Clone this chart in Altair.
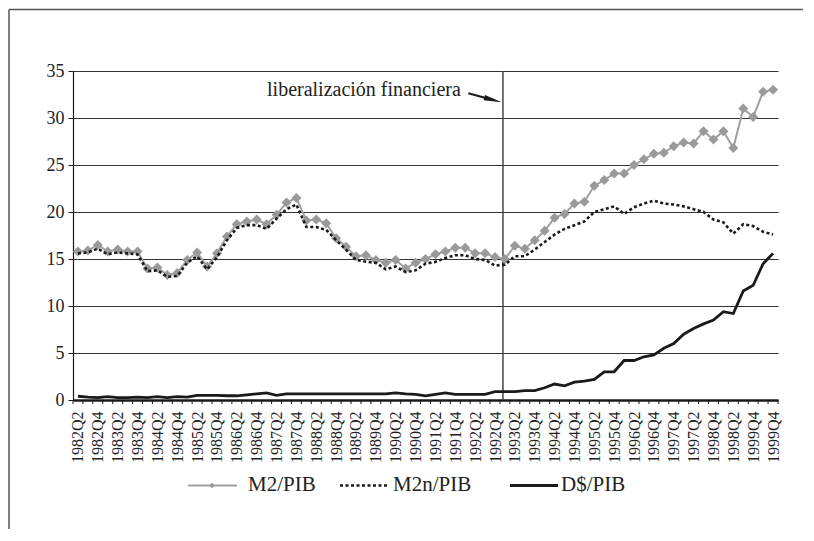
import altair as alt
import pandas as pd

# ---------------- data ----------------
tick_labels = ["1982Q2", "1982Q4", "1983Q2", "1983Q4", "1984Q2", "1984Q4",
               "1985Q2", "1985Q4", "1986Q2", "1986Q4", "1987Q2", "1987Q4",
               "1988Q2", "1988Q4", "1989Q2", "1989Q4", "1990Q2", "1990Q4",
               "1991Q2", "1991Q4", "1992Q2", "1992Q4", "1993Q2", "1993Q4",
               "1994Q2", "1994Q4", "1995Q2", "1995Q4", "1996Q2", "1996Q4",
               "1997Q4", "1997Q2", "1998Q4", "1998Q2", "1999Q4", "1999Q4"]

m2_pib = [15.8, 15.9, 16.5, 15.8, 16.0, 15.8, 15.8, 14.0, 14.1, 13.3,
          13.5, 14.9, 15.7, 14.2, 15.6, 17.4, 18.7, 19.0, 19.2, 18.7,
          19.7, 21.0, 21.5, 19.1, 19.2, 18.8, 17.2, 16.3, 15.3, 15.4,
          14.9, 14.6, 14.9, 14.0, 14.6, 15.0, 15.5, 15.8, 16.2, 16.2,
          15.6, 15.6, 15.2, 15.0, 16.4, 16.1, 17.0, 18.0, 19.4, 19.8,
          20.9, 21.1, 22.8, 23.4, 24.1, 24.1, 25.0, 25.6, 26.2, 26.3,
          27.0, 27.4, 27.3, 28.6, 27.7, 28.6, 26.8, 31.0, 30.1, 32.8,
          33.0]

m2n_pib = [15.6, 15.7, 16.1, 15.5, 15.7, 15.6, 15.5, 13.7, 13.8, 13.1,
           13.2, 14.6, 15.3, 13.9, 15.2, 17.0, 18.3, 18.6, 18.6, 18.2,
           19.3, 20.3, 20.8, 18.4, 18.4, 18.1, 17.0, 16.0, 14.9, 14.7,
           14.6, 13.9, 14.2, 13.6, 13.8, 14.5, 14.7, 15.1, 15.4, 15.4,
           15.0, 14.9, 14.3, 14.4, 15.3, 15.3, 16.0, 16.8, 17.6, 18.2,
           18.6, 19.0, 20.0, 20.3, 20.6, 19.8, 20.5, 20.9, 21.2, 20.9,
           20.8, 20.6, 20.3, 20.0, 19.2, 18.9, 17.7, 18.7, 18.5, 17.9,
           17.6]

dolar_pib = [0.4, 0.3, 0.25, 0.35, 0.25, 0.25, 0.3, 0.25, 0.35, 0.25,
             0.35, 0.3, 0.5, 0.5, 0.5, 0.45, 0.45, 0.55, 0.65, 0.75,
             0.5, 0.65, 0.65, 0.65, 0.65, 0.65, 0.65, 0.65, 0.65, 0.65,
             0.65, 0.65, 0.75, 0.65, 0.6, 0.45, 0.6, 0.75, 0.6, 0.6,
             0.6, 0.6, 0.9, 0.9, 0.9, 1.0, 1.0, 1.3, 1.7, 1.5,
             1.9, 2.0, 2.2, 3.0, 3.0, 4.2, 4.2, 4.6, 4.8, 5.5,
             6.0, 7.0, 7.6, 8.1, 8.5, 9.4, 9.2, 11.6, 12.2, 14.5,
             15.6]

series_names = ["M2/PIB", "M2n/PIB", "D$/PIB"]
y_ticks = [0, 5, 10, 15, 20, 25, 30, 35]
liberalizacion_pos = 42.8
annotation_text = "liberalización financiera"

# ---------------- layout ----------------
n = len(m2_pib)
W, H = 705, 329
PAD = {"left": 65, "top": 63, "right": 25, "bottom": 130}
FONT = "Liberation Serif"
INK = "#1a1a1a"
GRAY = "#a0a0a0"

df = pd.DataFrame({
    "idx": list(range(n)) * 3,
    "value": m2_pib + m2n_pib + dolar_pib,
    "serie": [s for s in series_names for _ in range(n)],
})

xscale = alt.Scale(domain=[-0.5, n - 0.5], nice=False, zero=False)
yscale = alt.Scale(domain=[0, 35], nice=False, zero=True)

label_expr = "[" + ",".join("'%s'" % t for t in tick_labels) + "][round(datum.value / 2)]"

x_axis = alt.Axis(values=list(range(0, n, 2)), labelExpr=label_expr, labelAngle=270,
                  labelAlign="right", labelBaseline="middle", labelOverlap=False,
                  labelPadding=11, labelFont=FONT, labelFontSize=16, labelColor="#222",
                  ticks=False, grid=False, domainColor=INK, domainWidth=2.5, title=None)
y_axis = alt.Axis(values=y_ticks, grid=True, gridColor="#333", gridWidth=1,
                  domainColor=INK, domainWidth=1.2, tickColor=INK, tickSize=5,
                  labelFont=FONT, labelFontSize=18, labelColor="#222", labelPadding=4,
                  title=None)


def X(field):
    return alt.X(field, scale=xscale, axis=x_axis)


def Y(field):
    return alt.Y(field, scale=yscale, axis=y_axis)


base = alt.Chart(df)

m2_line = base.transform_filter(alt.datum.serie == "M2/PIB").mark_line(
    color=GRAY, strokeWidth=2).encode(x=X("idx:Q"), y=Y("value:Q"))
m2_pts = base.transform_filter(alt.datum.serie == "M2/PIB").mark_point(
    shape="diamond", filled=True, size=100, color="#9a9a9a", opacity=1).encode(
    x=X("idx:Q"), y=Y("value:Q"))
m2n_line = base.transform_filter(alt.datum.serie == "M2n/PIB").mark_line(
    color=INK, strokeWidth=2.6, strokeDash=[3, 2.5]).encode(x=X("idx:Q"), y=Y("value:Q"))
d_line = base.transform_filter(alt.datum.serie == "D$/PIB").mark_line(
    color=INK, strokeWidth=2.8).encode(x=X("idx:Q"), y=Y("value:Q"))

# category tick marks between quarters
tick_df = pd.DataFrame({"b": [i - 0.5 for i in range(n + 1)]})
cat_ticks = alt.Chart(tick_df).mark_rule(color=INK, strokeWidth=1).encode(
    x=X("b:Q"), y=alt.value(H), y2=alt.value(H + 4))

# vertical line: liberalización financiera
vline = alt.Chart(pd.DataFrame({"pos": [liberalizacion_pos]})).mark_rule(
    color="#444", strokeWidth=1.5).encode(
    x=X("pos:Q"), y=alt.value(0), y2=alt.value(H))

ann = alt.Chart(pd.DataFrame({"x": [19.04], "y": [32.34], "t": [annotation_text]})).mark_text(
    align="left", baseline="alphabetic", font=FONT, fontSize=20, color="#222").encode(
    x=X("x:Q"), y=Y("y:Q"), text="t:N")
arrow_shaft = alt.Chart(pd.DataFrame({"x": [39.31], "y": [32.63], "x2": [41.8], "y2": [31.92]})).mark_rule(
    color=INK, strokeWidth=2).encode(x=X("x:Q"), x2="x2:Q", y=Y("y:Q"), y2="y2:Q")
arrow_head = alt.Chart(pd.DataFrame({"x": [41.8], "y": [31.92]})).mark_point(
    shape="M -1 -0.3 L 1 0 L -1 0.3 Z", filled=True, size=324, angle=15,
    color=INK, opacity=1).encode(x=X("x:Q"), y=Y("y:Q"))

# manual legend (pixel positions relative to plot origin)
one = pd.DataFrame({"k": [0]})
LY, TY = 414.5, 420
legend_layers = []
leg_specs = [
    (series_names[0], 115, 164, 175, dict(color=GRAY, strokeWidth=2)),
    (series_names[1], 267, 315, 320, dict(color=INK, strokeWidth=2.6, strokeDash=[3, 2.5])),
    (series_names[2], 437, 485, 488, dict(color=INK, strokeWidth=2.8)),
]
for name, x1, x2, tx, style in leg_specs:
    legend_layers.append(alt.Chart(one).mark_rule(**style).encode(
        x=alt.value(x1), x2=alt.value(x2), y=alt.value(LY)))
    legend_layers.append(alt.Chart(one).mark_text(
        text=name, align="left", baseline="alphabetic", font=FONT, fontSize=21,
        color="#222").encode(x=alt.value(tx), y=alt.value(TY)))
legend_layers.append(alt.Chart(one).mark_point(
    shape="diamond", filled=True, size=30, color="#9a9a9a", opacity=1).encode(
    x=alt.value(139), y=alt.value(LY)))

# outer frame (top and left border)
frame_top = alt.Chart(one).mark_rule(color="#555", strokeWidth=1.5).encode(
    x=alt.value(-64), x2=alt.value(730), y=alt.value(-61.5))
frame_left = alt.Chart(one).mark_rule(color="#555", strokeWidth=1.5).encode(
    x=alt.value(-64), y=alt.value(-61.5), y2=alt.value(458))

chart = alt.layer(
    m2_line, frame_top, frame_left, vline, m2_pts, m2n_line, d_line, cat_ticks,
    ann, arrow_shaft, arrow_head, *legend_layers
).properties(
    width=W, height=H,
    autosize=alt.AutoSizeParams(type="none"),
    padding=PAD,
).configure_view(strokeWidth=0)

chart.save("out.html", embed_options={"renderer": "svg", "actions": False})
